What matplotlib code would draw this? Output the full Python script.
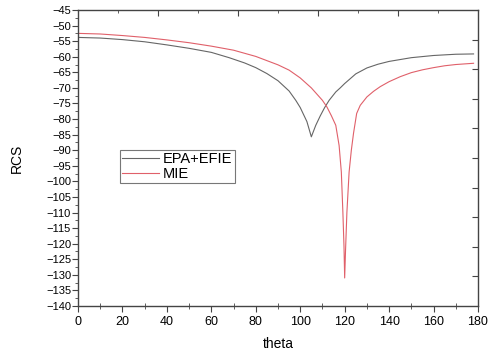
import numpy as np
import matplotlib.pyplot as plt
from matplotlib.ticker import MultipleLocator

# EPA+EFIE curve
theta_epa = [0, 10, 20, 30, 40, 50, 60, 68, 75, 80, 85, 90, 95, 98, 100, 103,
             105, 107, 109, 111, 113, 116, 118, 120, 125, 130, 135, 140, 150,
             160, 170, 178]
rcs_epa = [-53.8, -54.0, -54.5, -55.2, -56.2, -57.3, -58.6, -60.3, -62.0, -63.5,
           -65.4, -67.7, -71.0, -74.0, -76.3, -80.8, -85.7, -82.0, -79.0, -76.3,
           -74.0, -71.3, -70.0, -68.6, -65.5, -63.6, -62.4, -61.5, -60.3, -59.6,
           -59.2, -59.1]

# MIE curve
theta_mie = [0, 10, 20, 30, 40, 50, 60, 70, 80, 90, 95, 100, 105, 108, 110,
             112, 114, 116, 117.5, 118.5, 119.2, 119.7, 120, 120.4, 121, 122,
             123, 124, 125.4, 127, 130, 133, 136, 140, 145, 150, 155, 160, 165,
             170, 178]
rcs_mie = [-52.5, -52.7, -53.2, -53.8, -54.6, -55.5, -56.6, -57.9, -59.9, -62.6,
           -64.3, -66.8, -70.0, -72.4, -74.0, -76.1, -78.9, -82.0, -88.5, -97.0,
           -110.0, -121.0, -131.0, -122.0, -110.0, -97.0, -90.0, -84.5, -78.2,
           -75.6, -72.9, -71.1, -69.6, -68.0, -66.4, -65.1, -64.2, -63.5, -62.9,
           -62.5, -62.1]

plt.rcParams['font.family'] = ['Liberation Sans', 'DejaVu Sans']

fig = plt.figure(figsize=(4.88, 3.54), dpi=100)
pos = [78/488, 1 - 306/354, 400/488, 296/354]
ax = fig.add_axes(pos)

ax.plot(theta_epa, rcs_epa, color='#666666', lw=0.8, label='EPA+EFIE')
ax.plot(theta_mie, rcs_mie, color='#e0606a', lw=0.8, label='MIE')

ax.set_xlim(0, 180)
ax.set_ylim(-140, -45)
ax.xaxis.set_major_locator(MultipleLocator(20))
ax.xaxis.set_minor_locator(MultipleLocator(10))
ax.yaxis.set_major_locator(MultipleLocator(5))
ax.yaxis.set_minor_locator(MultipleLocator(2.5))
ax.tick_params(axis='x', which='major', direction='out', length=4, labelsize=9, color='#444444')
ax.tick_params(axis='x', which='minor', direction='inout', length=4, color='#444444')
ax.tick_params(axis='y', which='major', direction='out', length=4, labelsize=8, pad=1, color='#444444')
ax.tick_params(axis='y', which='minor', direction='out', length=2, color='#444444')
for s in ax.spines.values():
    s.set_color('#444444')
    s.set_linewidth(1.0)

ax.set_xlabel('theta', fontsize=10, labelpad=6)
ax.set_ylabel('RCS', fontsize=10, labelpad=16)

leg = ax.legend(loc='upper left', bbox_to_anchor=(0.105, 0.528), fontsize=10.5,
                frameon=True, fancybox=False, handlelength=2.5, handletextpad=0.3,
                borderpad=0.15, labelspacing=0.05, borderaxespad=0)
leg.get_frame().set_edgecolor('#555555')
leg.get_frame().set_linewidth(0.8)

# unlabeled top/right scale like the original
ax2 = fig.add_axes(pos, frameon=False)
ax2.set_xlim(0, 10)
ax2.set_ylim(0, 10)
ax2.patch.set_visible(False)
ax2.xaxis.tick_top()
ax2.yaxis.tick_right()
ax2.set_xticks([2, 4, 6, 8])
ax2.set_xticks([1, 3, 5, 7, 9], minor=True)
ax2.set_yticks(range(1, 10))
ax2.tick_params(which='both', direction='in', labeltop=False, labelright=False,
                color='#444444')
ax2.tick_params(which='major', length=4)
ax2.tick_params(which='minor', length=2)

fig.savefig('out.png', dpi=100)
